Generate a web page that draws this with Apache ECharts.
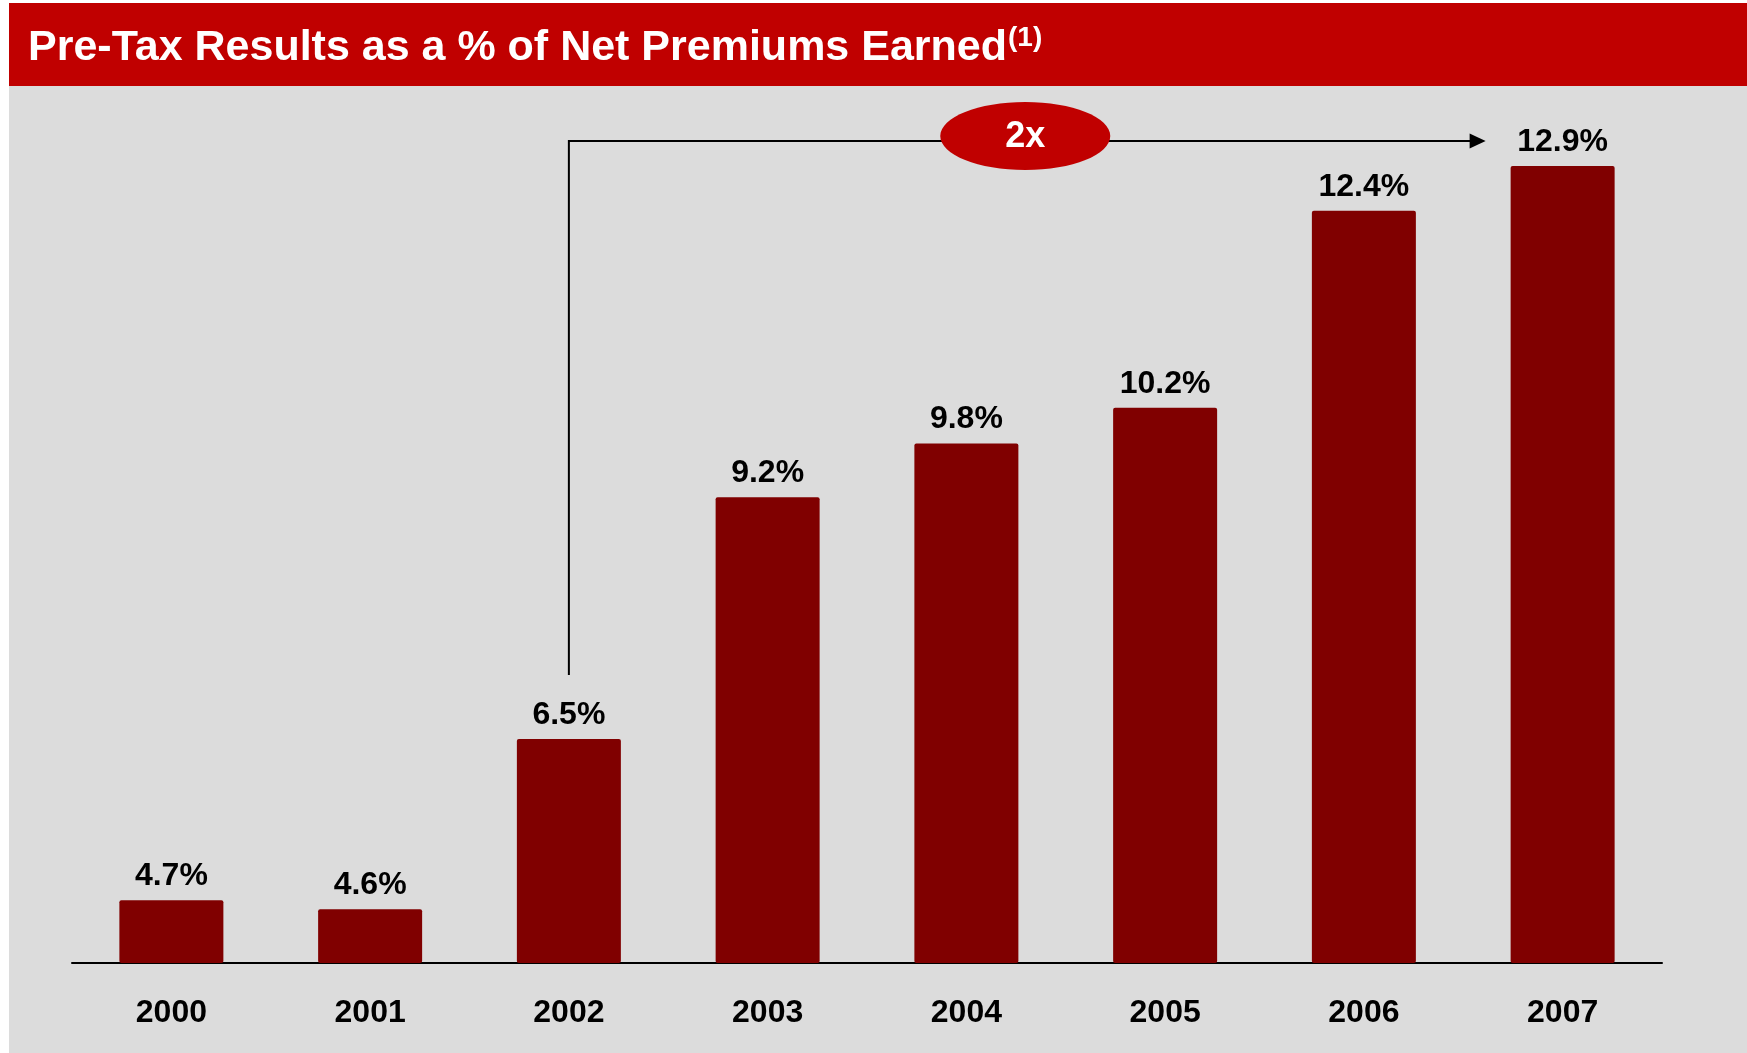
<!DOCTYPE html>
<html style="height: 100%">
<head>
    <meta charset="utf-8">
    <title>Pre-Tax Results</title>
    <script src="https://cdn.jsdelivr.net/npm/echarts@6/dist/echarts.min.js"></script>
</head>
<body style="height: 100%; margin: 0; background: #ffffff">
    <div id="main" style="width: 1747px; height: 1053px"></div>
    <script type="text/javascript">
        // data
        var years = ['2000', '2001', '2002', '2003', '2004', '2005', '2006', '2007'];
        var pretax = [4.7, 4.6, 6.5, 9.2, 9.8, 10.2, 12.4, 12.9];
        var titleText = 'Pre-Tax Results as a % of Net Premiums Earned';
        var titleNote = '(1)';
        var growthLabel = '2x';

        var FONT = '"Liberation Sans", Arial, sans-serif';

        var myChart = echarts.init(document.getElementById('main'));

        var option = {
            animation: false,
            grid: {
                left: 72,
                right: 85,
                top: 157,
                bottom: 90
            },
            xAxis: {
                type: 'category',
                data: years,
                axisLine: { lineStyle: { color: '#000', width: 2 } },
                axisTick: { show: false },
                axisLabel: {
                    margin: 34,
                    color: '#000',
                    fontSize: 32,
                    fontWeight: 'bold',
                    fontFamily: FONT
                }
            },
            yAxis: {
                type: 'value',
                min: 4,
                max: 13,
                show: false,
                splitLine: { show: false }
            },
            series: [{
                type: 'bar',
                data: pretax,
                barWidth: 104,
                itemStyle: { color: '#800000', borderRadius: 2 },
                label: {
                    show: true,
                    position: 'top',
                    distance: 8,
                    color: '#000',
                    fontSize: 32,
                    fontWeight: 'bold',
                    fontFamily: FONT,
                    formatter: function (p) { return p.value.toFixed(1) + '%'; }
                }
            }]
        };
        myChart.setOption(option);

        // header width, for placing the (1) note
        var ctx = document.createElement('canvas').getContext('2d');
        ctx.font = 'bold 43px ' + FONT;
        var titleW = ctx.measureText(titleText).width;

        // bracket arrow from 2002 to 2007, positioned from the axes
        var x0 = myChart.convertToPixel({ xAxisIndex: 0 }, '2002');
        var x1 = myChart.convertToPixel({ xAxisIndex: 0 }, '2007') - 77;
        var yTop = myChart.convertToPixel({ yAxisIndex: 0 }, 12.9) - 25;
        var yBot = myChart.convertToPixel({ yAxisIndex: 0 }, 6.5) - 64;
        var xm = (x0 + x1) / 2;

        myChart.setOption({
            graphic: [
                {
                    type: 'rect', z: -10, silent: true,
                    shape: { x: 9, y: 86, width: 1747, height: 1053 },
                    style: { fill: '#dcdcdc' }
                },
                {
                    type: 'rect', z: -10, silent: true,
                    shape: { x: 9, y: 3, width: 1747, height: 83 },
                    style: { fill: '#c00000' }
                },
                {
                    type: 'text', x: 28, y: 48,
                    style: {
                        text: titleText, fill: '#fff',
                        font: 'bold 43px ' + FONT,
                        verticalAlign: 'middle'
                    }
                },
                {
                    type: 'text', x: 28 + titleW + 1, y: 38,
                    style: {
                        text: titleNote, fill: '#fff',
                        font: 'bold 28px ' + FONT,
                        verticalAlign: 'middle'
                    }
                },
                {
                    type: 'polyline', silent: true,
                    shape: { points: [[x0, yBot], [x0, yTop], [x1 - 14, yTop]] },
                    style: { stroke: '#000', lineWidth: 2, fill: null }
                },
                {
                    type: 'polygon', silent: true,
                    shape: { points: [[x1 - 16, yTop - 7.5], [x1, yTop], [x1 - 16, yTop + 7.5]] },
                    style: { fill: '#000' }
                },
                {
                    type: 'ellipse', silent: true,
                    shape: { cx: xm - 2, cy: yTop - 5, rx: 85, ry: 34 },
                    style: { fill: '#c00000' }
                },
                {
                    type: 'text', x: xm - 2, y: yTop - 4,
                    style: {
                        text: growthLabel, fill: '#fff',
                        font: 'bold 36px ' + FONT,
                        align: 'center', verticalAlign: 'middle'
                    }
                }
            ]
        });
    </script>
</body>
</html>
